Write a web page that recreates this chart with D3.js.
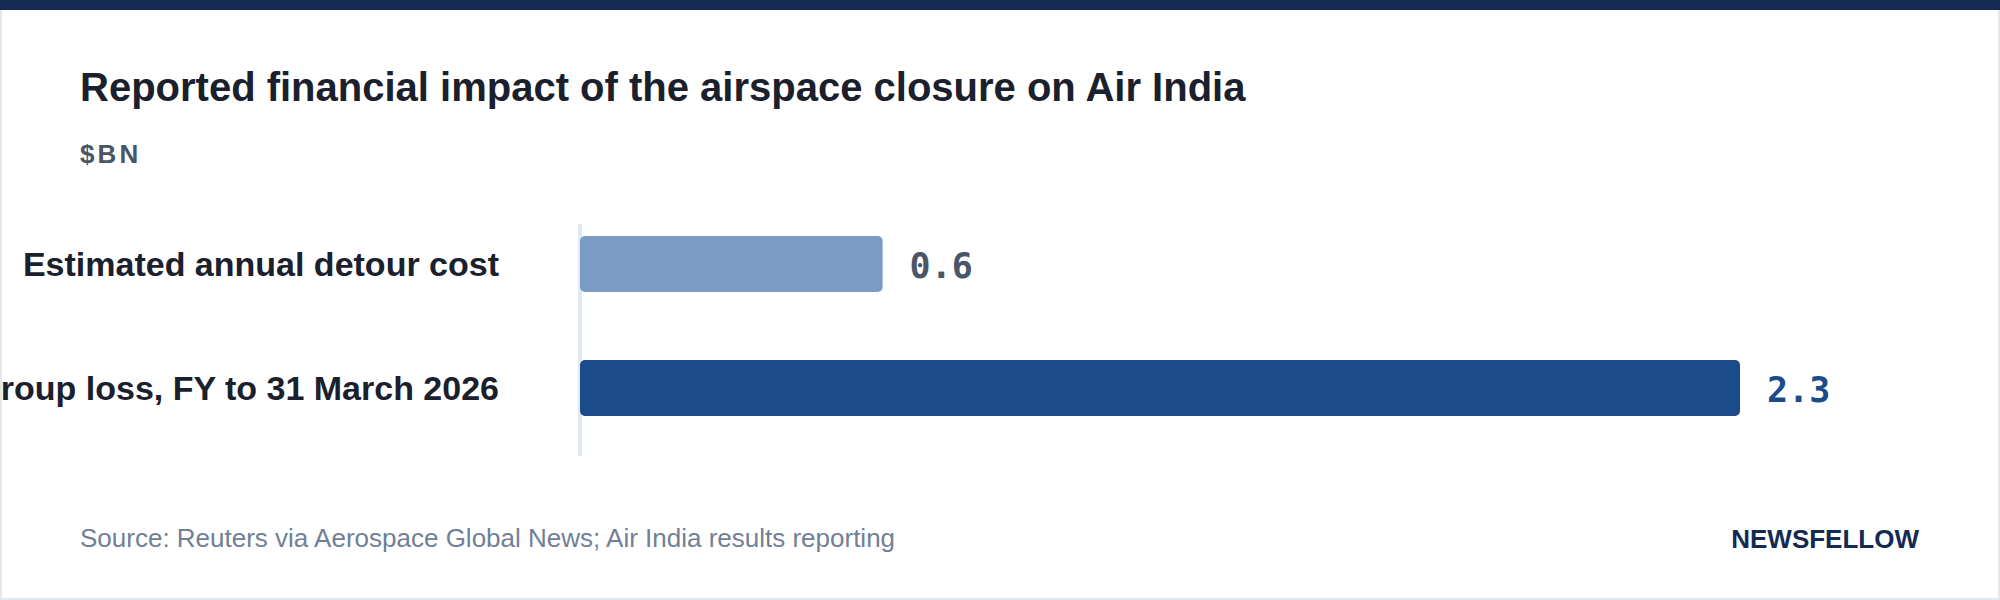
<!DOCTYPE html>
<html>
<head>
<meta charset="utf-8">
<script src="https://cdn.jsdelivr.net/npm/d3@7"></script>
<style>
  html, body { margin: 0; padding: 0; background: #ffffff; }
  svg { display: block; }
</style>
</head>
<body>
<svg id="chart" width="2000" height="600"></svg>
<script>
// ---- data ----
const categories = ["Estimated annual detour cost", "Group loss, FY to 31 March 2026"];
const values = [0.6, 2.3];
const valueLabels = ["0.6", "2.3"];
const barColors = ["#7b9bc4", "#1c4b8c"];
const valueColors = ["#4a5568", "#1c4b8c"];
const title = "Reported financial impact of the airspace closure on Air India";
const unitLabel = "$BN";
const sourceText = "Source: Reuters via Aerospace Global News; Air India results reporting";
const brand = "NEWSFELLOW";

const W = 2000, H = 600;
const svg = d3.select("#chart");

// card frame
svg.append("rect").attr("x", 0).attr("y", 0).attr("width", W).attr("height", H).attr("fill", "#e2e8f0");
svg.append("rect").attr("x", 2).attr("y", 0).attr("width", W - 4).attr("height", H - 2).attr("fill", "#ffffff");
svg.append("rect").attr("x", 0).attr("y", 0).attr("width", W).attr("height", 10).attr("fill", "#132b52");

const sans = "'Liberation Sans', Arial, Helvetica, sans-serif";
const mono = "'DejaVu Sans Mono', monospace";

// title + unit
svg.append("text").attr("x", 80).attr("y", 101)
  .attr("font-family", sans).attr("font-weight", 700).attr("font-size", 40)
  .attr("fill", "#1a202c").text(title);
svg.append("text").attr("x", 80).attr("y", 163)
  .attr("font-family", sans).attr("font-weight", 700).attr("font-size", 26)
  .attr("letter-spacing", "0.12em")
  .attr("fill", "#4a5568").text(unitLabel);

// scales
const x = d3.scaleLinear().domain([0, d3.max(values)]).range([580, 1740]);
const y = d3.scaleBand().domain(categories).range([236, 416]).paddingInner(68 / 124).paddingOuter(0);

// axis baseline
svg.append("rect").attr("x", x(0) - 2).attr("y", 224).attr("width", 4).attr("height", 232).attr("fill", "#e2e8f0");

// bars
svg.selectAll("rect.bar").data(categories).join("rect")
  .attr("class", "bar")
  .attr("x", x(0))
  .attr("y", d => y(d))
  .attr("width", (d, i) => x(values[i]) - x(0))
  .attr("height", y.bandwidth())
  .attr("rx", 5).attr("ry", 5)
  .attr("fill", (d, i) => barColors[i]);

// category labels
svg.selectAll("text.cat").data(categories).join("text")
  .attr("class", "cat")
  .attr("x", 499)
  .attr("y", d => y(d) + y.bandwidth() / 2)
  .attr("dy", "0.35em")
  .attr("text-anchor", "end")
  .attr("font-family", sans).attr("font-weight", 700).attr("font-size", 34)
  .attr("fill", "#1a202c")
  .text(d => d);

// value labels
svg.selectAll("text.val").data(categories).join("text")
  .attr("class", "val")
  .attr("x", (d, i) => x(values[i]) + 27)
  .attr("y", d => y(d) + y.bandwidth() / 2)
  .attr("dy", "0.41em")
  .attr("font-family", mono).attr("font-weight", 700).attr("font-size", 35)
  .attr("fill", (d, i) => valueColors[i])
  .text((d, i) => valueLabels[i]);

// footer
svg.append("text").attr("x", 80).attr("y", 547)
  .attr("font-family", sans).attr("font-size", 26)
  .attr("fill", "#718096").text(sourceText);
svg.append("text").attr("x", 1919).attr("y", 548)
  .attr("text-anchor", "end")
  .attr("font-family", sans).attr("font-weight", 700).attr("font-size", 26)
  .attr("fill", "#132b52").text(brand);
</script>
</body>
</html>
